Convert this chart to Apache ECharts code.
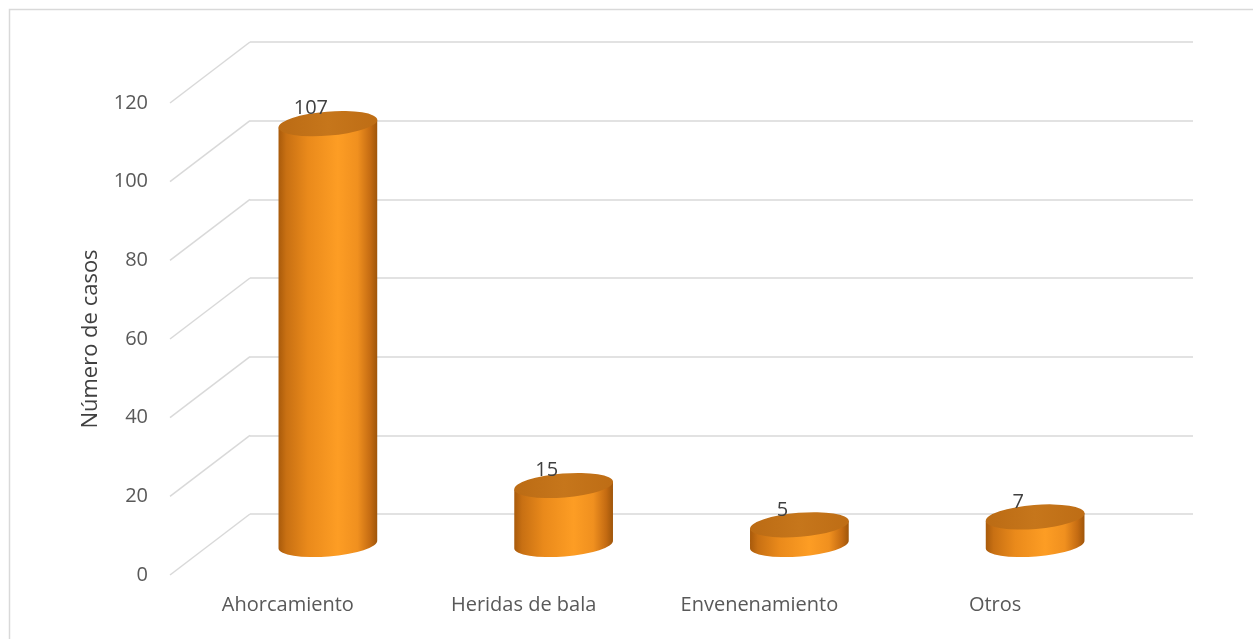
<!DOCTYPE html>
<html>
<head>
<meta charset="utf-8">
<script src="https://cdn.jsdelivr.net/npm/echarts@6/dist/echarts.min.js"></script>
<style>
html,body{margin:0;padding:0;background:#fff;}
#chart{width:1253px;height:639px;}
</style>
</head>
<body>
<div id="chart"></div>
<script>
const categories = ['Ahorcamiento', 'Heridas de bala', 'Envenenamiento', 'Otros'];
const values = [107, 15, 5, 7];
const yTicks = [0, 20, 40, 60, 80, 100, 120];
const yAxisName = 'Número de casos';

// layout (3D depth offset of the back wall relative to the front plane)
const DEPTH_DX = 80, DEPTH_DY = 61;
const FONT = '"Open Sans", "Noto Sans", sans-serif';

const chart = echarts.init(document.getElementById('chart'));

const yMin = yTicks[0], yMax = yTicks[yTicks.length - 1], yStep = yTicks[1] - yTicks[0];

function ellipsePts(cx, cy, rx, rotRad) {
  const dx = rx * Math.cos(rotRad), dy = rx * Math.sin(rotRad);
  return { lx: cx - dx, ly: cy + dy, rx2: cx + dx, ry2: cy - dy };
}

const option = {
  backgroundColor: '#ffffff',
  animation: false,
  graphic: [{
    type: 'rect', left: 7, top: 7, silent: true,
    shape: { width: 1300, height: 700 },
    style: { fill: 'none', stroke: '#d9d9d9', lineWidth: 1.5 }
  }],
  grid: [
    { left: 250, right: 60, top: 42, bottom: 125 },      // back wall
    { left: 170, right: 140, top: 103, bottom: 64 },     // front plane
    { left: 210, right: 100, top: 72.5, bottom: 94.5 }   // mid depth (bars)
  ],
  xAxis: [
    { gridIndex: 0, type: 'category', data: categories, show: false },
    { gridIndex: 1, type: 'category', data: categories,
      axisLine: { show: false }, axisTick: { show: false },
      axisLabel: { margin: 20, color: '#595959', fontSize: 20, fontFamily: FONT } },
    { gridIndex: 2, type: 'category', data: categories, show: false }
  ],
  yAxis: [
    { gridIndex: 0, type: 'value', min: yMin, max: yMax, interval: yStep,
      axisLabel: { show: false }, axisLine: { show: false }, axisTick: { show: false },
      splitLine: { lineStyle: { color: '#d9d9d9', width: 1.5 } } },
    { gridIndex: 1, type: 'value', min: yMin, max: yMax, interval: yStep,
      axisLine: { show: false }, axisTick: { show: false }, splitLine: { show: false },
      axisLabel: { margin: 22, color: '#595959', fontSize: 20, fontFamily: FONT },
      name: yAxisName, nameLocation: 'middle', nameGap: 68,
      nameTextStyle: { color: '#404040', fontSize: 22, fontFamily: FONT } },
    { gridIndex: 2, type: 'value', min: yMin, max: yMax, interval: yStep, show: false }
  ],
  series: [
    {
      type: 'custom', xAxisIndex: 0, yAxisIndex: 0, silent: true,
      data: yTicks.map(v => [0, v]),
      renderItem: function (params, api) {
        const cs = params.coordSys;
        const y = api.coord([0, api.value(1)])[1];
        return {
          type: 'line',
          shape: { x1: cs.x, y1: y, x2: cs.x - DEPTH_DX, y2: y + DEPTH_DY },
          style: { stroke: '#d9d9d9', lineWidth: 1.5 }
        };
      }
    },
    {
      type: 'custom', xAxisIndex: 2, yAxisIndex: 2, silent: true,
      data: values.map((v, i) => [i, v]),
      renderItem: function (params, api) {
        const i = api.value(0), v = api.value(1);
        const top = api.coord([i, v]);
        const bot = api.coord([i, 0]);
        const bw = api.size([1, 0])[0] * 0.42;
        const rx = bw / 2, ry = 12;
        const rotDeg = -4.6, rot = rotDeg * Math.PI / 180;
        const cx = top[0];
        const t = ellipsePts(cx, top[1], rx, -rot);
        const b = ellipsePts(cx, bot[1], rx, -rot);
        const bodyPath =
          'M' + b.lx + ' ' + t.ly +
          ' L' + b.lx + ' ' + b.ly +
          ' A' + rx + ' ' + ry + ' ' + rotDeg + ' 0 0 ' + b.rx2 + ' ' + b.ry2 +
          ' L' + b.rx2 + ' ' + t.ry2 + ' Z';
        const topPath =
          'M' + t.lx + ' ' + t.ly +
          ' A' + rx + ' ' + ry + ' ' + rotDeg + ' 0 0 ' + t.rx2 + ' ' + t.ry2 +
          ' A' + rx + ' ' + ry + ' ' + rotDeg + ' 0 0 ' + t.lx + ' ' + t.ly + ' Z';
        return {
          type: 'group',
          children: [
            { type: 'path', shape: { pathData: bodyPath },
              style: { fill: { type: 'linear', x: 0, y: 0, x2: 1, y2: 0, colorStops: [
                { offset: 0, color: '#a85a0b' },
                { offset: 0.08, color: '#c87013' },
                { offset: 0.3, color: '#ea8a1b' },
                { offset: 0.6, color: '#fd9d24' },
                { offset: 0.8, color: '#f0901f' },
                { offset: 0.93, color: '#c46b12' },
                { offset: 1, color: '#9e550a' }
              ] }, stroke: null } },
            { type: 'path', shape: { pathData: topPath },
              style: { fill: { type: 'linear', x: 0, y: 0, x2: 1, y2: 0, colorStops: [
                { offset: 0, color: '#bb6b14' },
                { offset: 0.5, color: '#c6761b' },
                { offset: 1, color: '#be6d15' }
              ] }, stroke: null } },
            { type: 'text', x: cx - 17, y: top[1] - 15,
              style: { text: String(v), fill: '#404040', font: '20px ' + FONT,
                       textAlign: 'center', textVerticalAlign: 'middle' } }
          ]
        };
      }
    }
  ]
};
chart.setOption(option);
</script>
</body>
</html>
